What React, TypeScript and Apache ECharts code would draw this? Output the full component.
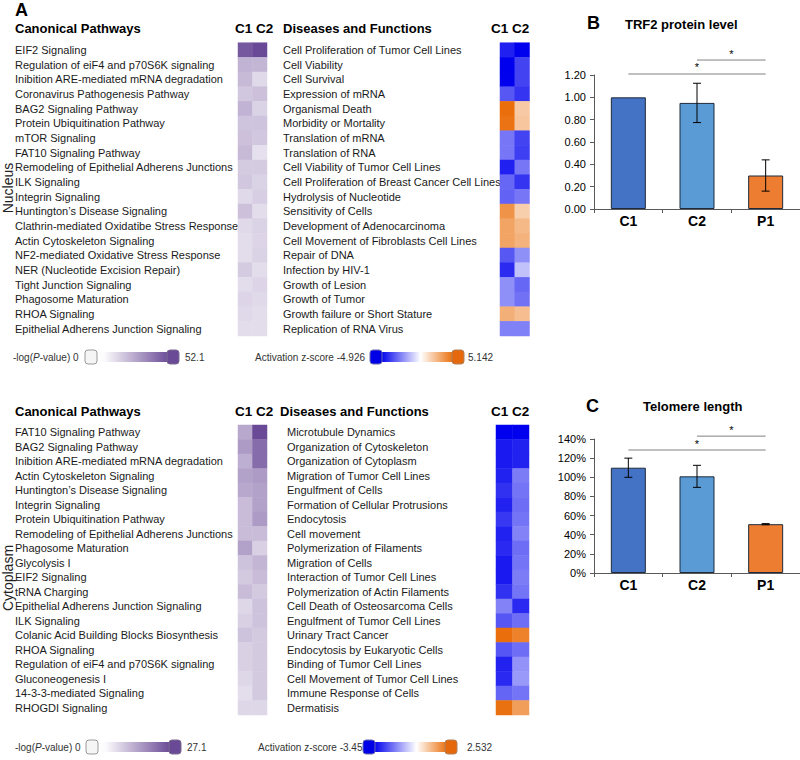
import React, { useEffect, useRef } from "react";
import * as echarts from "echarts";

const FONT = '"Liberation Sans", Arial, Helvetica, sans-serif';

// ---------- Panel A : Nucleus ----------
const nucleusPathways = [
  "EIF2 Signaling",
  "Regulation of eiF4 and p70S6K signaling",
  "Inibition ARE-mediated mRNA degradation",
  "Coronavirus Pathogenesis Pathway",
  "BAG2 Signaling Pathway",
  "Protein Ubiquitination Pathway",
  "mTOR Signaling",
  "FAT10 Signaling Pathway",
  "Remodeling of Epithelial Adherens Junctions",
  "ILK Signaling",
  "Integrin Signaling",
  "Huntington’s Disease Signaling",
  "Clathrin-mediated Oxidatibe Stress Response",
  "Actin Cytoskeleton Signaling",
  "NF2-mediated Oxidative Stress Response",
  "NER (Nucleotide Excision Repair)",
  "Tight Junction Signaling",
  "Phagosome Maturation",
  "RHOA Signaling",
  "Epithelial Adherens Junction Signaling",
];
const nucleusPathC1 = [48, 22, 20, 16, 22, 17, 18, 20, 15, 16, 11, 18, 11, 10, 10, 15, 10, 12, 11, 10];
const nucleusPathC2 = [52.1, 21, 11, 18, 13, 17, 16, 9, 15, 13, 14, 10, 13, 12, 13, 10, 12, 11, 10, 10];

const nucleusDiseases = [
  "Cell Proliferation of Tumor Cell Lines",
  "Cell Viability",
  "Cell Survival",
  "Expression of mRNA",
  "Organismal Death",
  "Morbidity or Mortality",
  "Translation of mRNA",
  "Translation of RNA",
  "Cell Viability of Tumor Cell Lines",
  "Cell Proliferation of Breast Cancer Cell Lines",
  "Hydrolysis of Nucleotide",
  "Sensitivity of Cells",
  "Development of Adenocarcinoma",
  "Cell Movement of Fibroblasts Cell Lines",
  "Repair of DNA",
  "Infection by HIV-1",
  "Growth of Lesion",
  "Growth of Tumor",
  "Growth failure or Short Stature",
  "Replication of RNA Virus",
];
const nucleusDisC1 = [-4.3, -4.926, -4.9, -3.2, 5.142, 5.0, -2.6, -2.6, -4.3, -2.9, -3.0, 3.9, 3.3, 3.3, -3.2, -4.1, -2.1, -2.1, 2.9, -2.4];
const nucleusDisC2 = [-4.926, -3.6, -3.6, -3.9, 2.0, 2.1, -3.6, -3.7, -2.6, -3.9, -2.6, 1.8, 2.6, 2.8, -2.1, -1.1, -2.9, -2.7, 2.4, -2.4];

// ---------- Panel A : Cytoplasm ----------
const cytoPathways = [
  "FAT10 Signaling Pathway",
  "BAG2 Signaling Pathway",
  "Inibition ARE-mediated mRNA degradation",
  "Actin Cytoskeleton Signaling",
  "Huntington’s Disease Signaling",
  "Integrin Signaling",
  "Protein Ubiquitination Pathway",
  "Remodeling of Epithelial Adherens Junctions",
  "Phagosome Maturation",
  "Glycolysis I",
  "EIF2 Signaling",
  "tRNA Charging",
  "Epithelial Adherens Junction Signaling",
  "ILK Signaling",
  "Colanic Acid Building Blocks Biosynthesis",
  "RHOA Signaling",
  "Regulation of eiF4 and p70S6K signaling",
  "Gluconeogenesis I",
  "14-3-3-mediated Signaling",
  "RHOGDI Signaling",
];
const cytoPathC1 = [13, 15, 12, 14, 13, 10, 10, 10, 14, 9, 8, 10, 6, 7, 9, 7, 7, 6, 5, 6];
const cytoPathC2 = [27.1, 22, 22, 15, 14, 14, 15, 10, 7, 11, 10, 8, 9, 9, 8, 8, 8, 8, 8, 6];

const cytoDiseases = [
  "Microtubule Dynamics",
  "Organization of Cytoskeleton",
  "Organization of Cytoplasm",
  "Migration of Tumor Cell Lines",
  "Engulfment of Cells",
  "Formation of Cellular Protrusions",
  "Endocytosis",
  "Cell movement",
  "Polymerization of Filaments",
  "Migration of Cells",
  "Interaction of Tumor Cell Lines",
  "Polymerization of Actin Filaments",
  "Cell Death of Osteosarcoma Cells",
  "Engulfment of Tumor Cell Lines",
  "Urinary Tract Cancer",
  "Endocytosis by Eukaryotic Cells",
  "Binding of Tumor Cell Lines",
  "Cell Movement of Tumor Cell Lines",
  "Immune Response of Cells",
  "Dermatisis",
];
const cytoDisC1 = [-3.45, -3.1, -3.1, -3.0, -2.8, -3.0, -2.7, -3.0, -2.9, -3.1, -3.1, -2.8, -1.7, -2.3, 2.532, -2.3, -3.0, -2.9, -2.1, 2.5];
const cytoDisC2 = [-3.45, -3.0, -3.0, -1.8, -1.9, -2.0, -1.9, -1.7, -2.0, -1.9, -1.8, -1.9, -2.9, -2.0, 2.2, -2.0, -1.5, -1.4, -1.9, 1.7];

const heatColumns = ["C1", "C2"];

// scale extremes shown in legends
const nucleusPMax = 52.1;
const cytoPMax = 27.1;
const nucleusZMin = -4.926;
const nucleusZMax = 5.142;
const cytoZMin = -3.45;
const cytoZMax = 2.532;

// ---------- Panel B / C ----------
const barCategories = ["C1", "C2", "P1"];
const trf2Values = [1.0, 0.95, 0.3];
const trf2Errors = [0, 0.176, 0.14];
const trf2SigFrom = ["C2", "C1"];
const trf2SigTo = ["P1", "P1"];
const trf2SigLevel = [1.334, 1.209];

const telomereValues = [110, 101, 51];
const telomereErrors = [10, 11.5, 0.6];
const telomereSigFrom = ["C2", "C1"];
const telomereSigTo = ["P1", "P1"];
const telomereSigLevel = [143, 128.5];

const barColors = ["#4472c4", "#5b9bd5", "#ed7d31"];

const PURPLE = "#6a4a96";
const BLUE = "#0000ee";
const ORANGE = "#ea6f0c";

function heatData(c1: number[], c2: number[]) {
  const out: number[][] = [];
  c1.forEach((v, i) => {
    out.push([0, i, v]);
    out.push([1, i, c2[i]]);
  });
  return out;
}

function errData(values: number[], errs: number[]) {
  return values.map((v, i) => [i, v, errs[i]]);
}

function sigData(from: string[], to: string[], level: number[]) {
  return from.map((f, i) => [barCategories.indexOf(f), barCategories.indexOf(to[i]), level[i]]);
}

const errRender = (params: any, api: any) => {
  const e = api.value(2);
  if (!e) return { type: "group", children: [] };
  const x = api.value(0);
  const v = api.value(1);
  const top = api.coord([x, v + e]);
  const bot = api.coord([x, v - e]);
  const hw = 4;
  const st = { stroke: "#000", lineWidth: 1 };
  return {
    type: "group",
    children: [
      { type: "line", shape: { x1: top[0], y1: top[1], x2: bot[0], y2: bot[1] }, style: st },
      { type: "line", shape: { x1: top[0] - hw, y1: top[1], x2: top[0] + hw, y2: top[1] }, style: st },
      { type: "line", shape: { x1: bot[0] - hw, y1: bot[1], x2: bot[0] + hw, y2: bot[1] }, style: st },
    ],
  };
};

const sigRender = (params: any, api: any) => {
  const a = api.coord([api.value(0), api.value(2)]);
  const b = api.coord([api.value(1), api.value(2)]);
  return {
    type: "group",
    children: [
      { type: "line", shape: { x1: a[0], y1: a[1], x2: b[0], y2: b[1] }, style: { stroke: "#808080", lineWidth: 1 } },
      {
        type: "text",
        x: (a[0] + b[0]) / 2,
        y: a[1] - 1,
        style: { text: "*", font: `11px ${FONT}`, fill: "#000", textAlign: "center", textVerticalAlign: "bottom" },
      },
    ],
  };
};

function heatYAxis(gridIndex: number, names: string[], margin: number) {
  return {
    type: "category",
    gridIndex,
    data: names,
    inverse: true,
    axisLine: { show: false },
    axisTick: { show: false },
    splitLine: { show: false },
    axisLabel: { interval: 0, align: "left", margin, fontSize: 11, color: "#1a1a1a", fontFamily: FONT },
  };
}

function heatXAxis(gridIndex: number) {
  return { type: "category", gridIndex, data: heatColumns, show: false };
}

function barXAxis(gridIndex: number) {
  return {
    type: "category",
    gridIndex,
    data: barCategories,
    axisLine: { show: true, lineStyle: { color: "#595959", width: 1 } },
    axisTick: { show: true, length: 4, lineStyle: { color: "#595959" } },
    axisLabel: { fontSize: 14, fontWeight: "bold", color: "#000", margin: 5, fontFamily: FONT },
  };
}

function barYAxis(gridIndex: number, max: number, interval: number, fmt: (v: number) => string) {
  return {
    type: "value",
    gridIndex,
    min: 0,
    max,
    interval,
    axisLine: { show: true, lineStyle: { color: "#595959", width: 1 } },
    axisTick: { show: true, length: 4, lineStyle: { color: "#595959" } },
    splitLine: { show: false },
    axisLabel: { fontSize: 11, color: "#000", margin: 8, formatter: fmt, fontFamily: FONT },
  };
}

function txt(x: number, y: number, text: string, font: string, extra: any = {}) {
  return {
    type: "text",
    x,
    y,
    style: { text, font, fill: "#000", textAlign: "left", textVerticalAlign: "middle", ...extra },
  };
}

function handle(x: number, y: number, fill: string, stroke: string) {
  return {
    type: "rect",
    shape: { x, y: y - 7, width: 12, height: 14, r: 3 },
    style: { fill, stroke, lineWidth: 1 },
  };
}

function gradBar(x0: number, x1: number, y: number, stops: { offset: number; color: string }[]) {
  return {
    type: "rect",
    shape: { x: x0, y: y - 5, width: x1 - x0, height: 10 },
    style: { fill: new echarts.graphic.LinearGradient(0, 0, 1, 0, stops) },
  };
}

const purpleStops = [
  { offset: 0, color: "#ffffff" },
  { offset: 0.12, color: "#fbfafc" },
  { offset: 1, color: PURPLE },
];

function zStops(zeroAt: number) {
  return [
    { offset: 0, color: BLUE },
    { offset: zeroAt, color: "#ffffff" },
    { offset: 1, color: ORANGE },
  ];
}

export default function App() {
  const ref = useRef<HTMLDivElement>(null);

  useEffect(() => {
    if (!ref.current) return;
    const chart = echarts.init(ref.current, undefined, { renderer: "svg" });

    const legendFont = `10px ${FONT}`;
    const legendTxt = { fill: "#333" };
    const pRich = { rich: { i: { fontStyle: "italic", font: `italic 10px ${FONT}`, fill: "#333" } } };

    const option: any = {
      animation: false,
      backgroundColor: "#ffffff",
      textStyle: { fontFamily: FONT },
      grid: [
        { left: 238, top: 42.7, width: 29, height: 293.3 },
        { left: 500, top: 42.7, width: 29.5, height: 293.3 },
        { left: 238, top: 425, width: 29, height: 290 },
        { left: 496, top: 425, width: 33, height: 290 },
        { left: 594, top: 75, width: 222, height: 134 },
        { left: 594, top: 439, width: 222, height: 134 },
      ],
      xAxis: [heatXAxis(0), heatXAxis(1), heatXAxis(2), heatXAxis(3), barXAxis(4), barXAxis(5)],
      yAxis: [
        heatYAxis(0, nucleusPathways, 223),
        heatYAxis(1, nucleusDiseases, 217),
        heatYAxis(2, cytoPathways, 223),
        heatYAxis(3, cytoDiseases, 209),
        barYAxis(4, 1.2, 0.2, (v: number) => v.toFixed(2)),
        barYAxis(5, 140, 20, (v: number) => `${v}%`),
      ],
      visualMap: [
        { type: "continuous", show: false, seriesIndex: 0, min: 0, max: nucleusPMax, inRange: { color: ["#ffffff", PURPLE] } },
        { type: "continuous", show: false, seriesIndex: 1, min: nucleusZMin, max: nucleusZMax, inRange: { color: [BLUE, "#ffffff", ORANGE] } },
        { type: "continuous", show: false, seriesIndex: 2, min: 0, max: cytoPMax, inRange: { color: ["#ffffff", PURPLE] } },
        {
          type: "continuous",
          show: false,
          seriesIndex: 3,
          min: cytoZMin,
          max: cytoZMax,
          inRange: { color: [BLUE, "#4040f2", "#8080f7", "#bfbffb", "#ffffff", "#f8cfae", "#f19f5d", ORANGE] },
        },
      ],
      series: [
        { type: "heatmap", xAxisIndex: 0, yAxisIndex: 0, data: heatData(nucleusPathC1, nucleusPathC2), emphasis: { disabled: true } },
        { type: "heatmap", xAxisIndex: 1, yAxisIndex: 1, data: heatData(nucleusDisC1, nucleusDisC2), emphasis: { disabled: true } },
        { type: "heatmap", xAxisIndex: 2, yAxisIndex: 2, data: heatData(cytoPathC1, cytoPathC2), emphasis: { disabled: true } },
        { type: "heatmap", xAxisIndex: 3, yAxisIndex: 3, data: heatData(cytoDisC1, cytoDisC2), emphasis: { disabled: true } },
        {
          type: "bar",
          xAxisIndex: 4,
          yAxisIndex: 4,
          barWidth: 35,
          data: trf2Values.map((v, i) => ({ value: v, itemStyle: { color: barColors[i], borderColor: "#1f2a3a", borderWidth: 1 } })),
        },
        { type: "custom", xAxisIndex: 4, yAxisIndex: 4, renderItem: errRender, data: errData(trf2Values, trf2Errors), encode: { x: 0, y: 1 }, z: 5 },
        {
          type: "custom",
          xAxisIndex: 4,
          yAxisIndex: 4,
          renderItem: sigRender,
          data: sigData(trf2SigFrom, trf2SigTo, trf2SigLevel),
          encode: { x: [0, 1], y: 2 },
          clip: false,
        },
        {
          type: "bar",
          xAxisIndex: 5,
          yAxisIndex: 5,
          barWidth: 35,
          data: telomereValues.map((v, i) => ({ value: v, itemStyle: { color: barColors[i], borderColor: "#1f2a3a", borderWidth: 1 } })),
        },
        { type: "custom", xAxisIndex: 5, yAxisIndex: 5, renderItem: errRender, data: errData(telomereValues, telomereErrors), encode: { x: 0, y: 1 }, z: 5 },
        {
          type: "custom",
          xAxisIndex: 5,
          yAxisIndex: 5,
          renderItem: sigRender,
          data: sigData(telomereSigFrom, telomereSigTo, telomereSigLevel),
          encode: { x: [0, 1], y: 2 },
          clip: false,
        },
      ],
      graphic: [
        txt(15, 10, "A", `bold 18px ${FONT}`),
        txt(587, 23, "B", `bold 18px ${FONT}`),
        txt(586, 406, "C", `bold 18px ${FONT}`),
        txt(625, 24, "TRF2 protein level", `bold 13px ${FONT}`),
        txt(643, 406, "Telomere length", `bold 13px ${FONT}`),

        txt(15, 28, "Canonical Pathways", `bold 13px ${FONT}`),
        txt(235, 28, "C1 C2", `bold 13.5px ${FONT}`),
        txt(283, 28, "Diseases and Functions", `bold 13px ${FONT}`),
        txt(491, 28, "C1 C2", `bold 13.5px ${FONT}`),

        txt(15, 411, "Canonical Pathways", `bold 13px ${FONT}`),
        txt(235, 411, "C1 C2", `bold 13.5px ${FONT}`),
        txt(280, 411, "Diseases and Functions", `bold 13px ${FONT}`),
        txt(491, 411, "C1 C2", `bold 13.5px ${FONT}`),

        {
          type: "text",
          x: 8,
          y: 188,
          rotation: Math.PI / 2,
          style: { text: "Nucleus", font: `14px ${FONT}`, fill: "#222", textAlign: "center", textVerticalAlign: "middle" },
        },
        {
          type: "text",
          x: 8,
          y: 578,
          rotation: Math.PI / 2,
          style: { text: "Cytoplasm", font: `14px ${FONT}`, fill: "#222", textAlign: "center", textVerticalAlign: "middle" },
        },

        // top legends
        txt(13, 357, "-log({i|P}-value) 0", legendFont, { ...legendTxt, ...pRich }),
        gradBar(96, 169, 357, purpleStops),
        handle(85, 357, "#f5f5f5", "#9a9a9a"),
        handle(167, 357, PURPLE, "#7a6a90"),
        txt(185, 357, String(nucleusPMax), legendFont, legendTxt),

        txt(255, 357, `Activation z-score ${nucleusZMin}`, legendFont, legendTxt),
        gradBar(381, 453, 357, zStops(0.55)),
        handle(370, 357, "#0000e6", "#6a6ab0"),
        handle(452, 357, "#e5690c", "#b0805a"),
        txt(468, 357, String(nucleusZMax), legendFont, legendTxt),

        // bottom legends
        txt(15, 747, "-log({i|P}-value) 0", legendFont, { ...legendTxt, ...pRich }),
        gradBar(97, 170, 747, purpleStops),
        handle(86, 747, "#f5f5f5", "#9a9a9a"),
        handle(169, 747, PURPLE, "#7a6a90"),
        txt(187, 747, String(cytoPMax), legendFont, legendTxt),

        txt(258, 747, `Activation z-score ${cytoZMin}`, legendFont, legendTxt),
        gradBar(374, 447, 747, zStops(0.58)),
        handle(363, 747, "#0000e6", "#6a6ab0"),
        handle(445, 747, "#e5690c", "#b0805a"),
        txt(467, 747, String(cytoZMax), legendFont, legendTxt),
      ],
    };

    chart.setOption(option);
    return () => chart.dispose();
  }, []);

  return <div ref={ref} style={{ position: "fixed", left: 0, top: 0, width: 800, height: 760, background: "#fff" }} />;
}
